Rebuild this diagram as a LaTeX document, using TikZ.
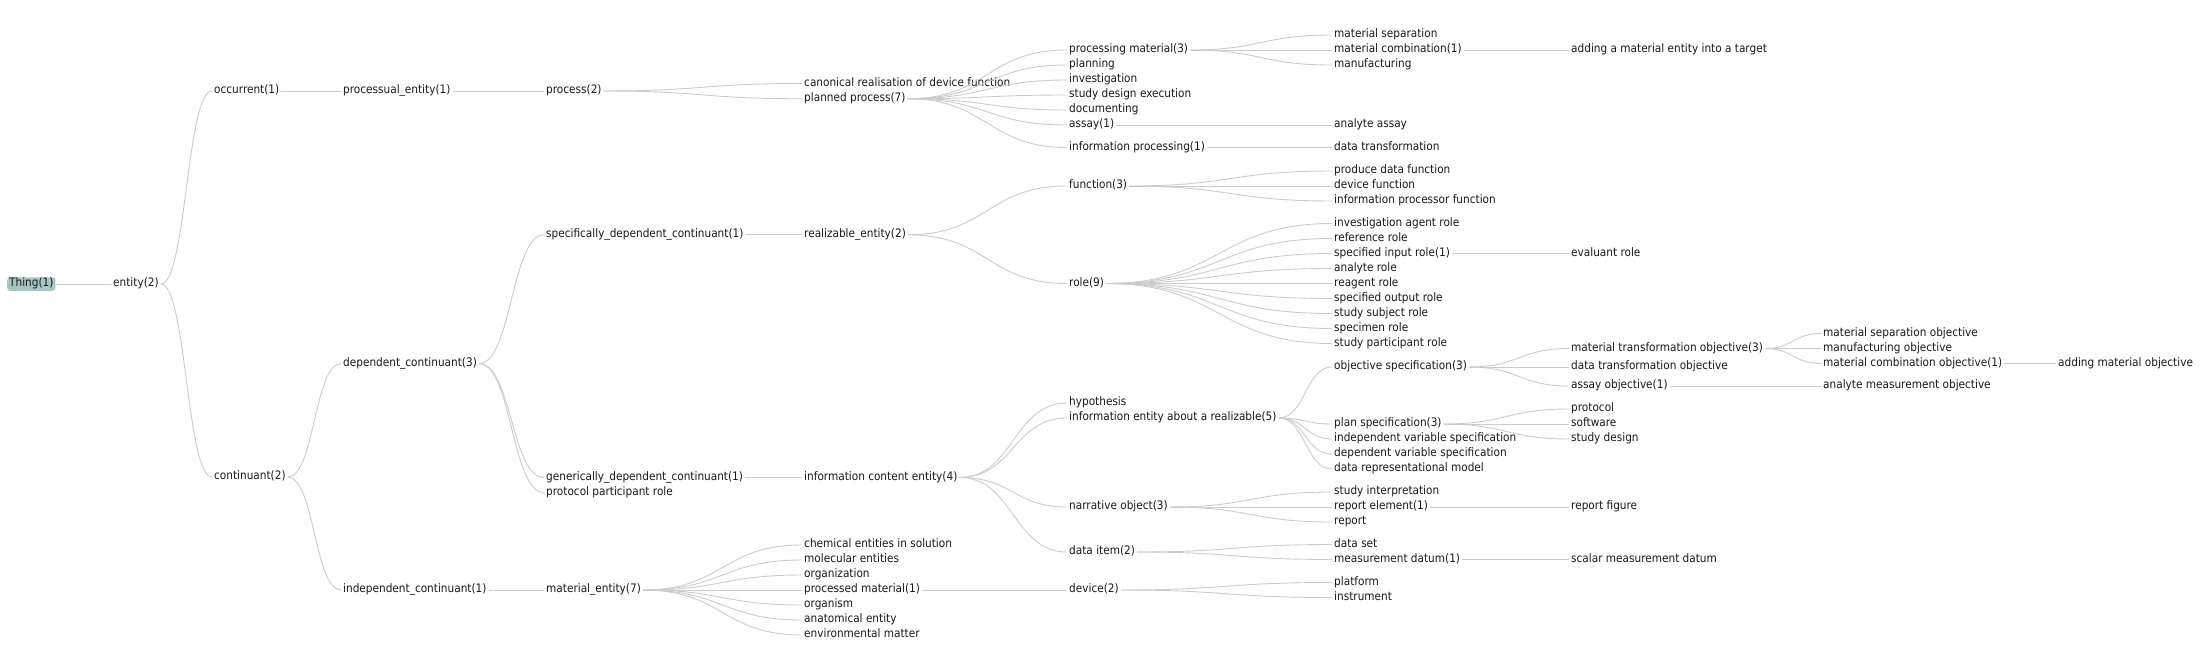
\documentclass[tikz,border=0pt]{standalone}
\usepackage{fontspec}
\setmainfont{DejaVu Sans Condensed}
\usepackage{xcolor}
\usetikzlibrary{calc}

\definecolor{rootfill}{RGB}{166,197,195}
\definecolor{linkgray}{RGB}{204,204,204}

\tikzset{
  lbl/.style={anchor=west, inner xsep=2pt, inner ysep=0pt, text height=8pt, text depth=2.5pt,
    font=\fontsize{11.7}{12}\selectfont, text=black!90},
  root/.style={lbl, fill=rootfill, rounded corners=3pt, inner ysep=1.5pt},
  link/.style={draw=linkgray, line width=0.9pt},
}

\newcommand{\treelink}[2]{%
  \draw[link] let \p1=(#1.east), \p2=(#2.west) in
    (\p1) .. controls ({(\x1+\x2)/2},\y1) and ({(\x1+\x2)/2},\y2) .. (\p2);}

\begin{document}
\begin{tikzpicture}[x=1pt, y=-1pt]
\useasboundingbox (0,0) rectangle (2201,662);

\node[root] (thing) at (7,284) {Thing(1)};
\node[lbl] (entity) at (111,284) {entity(2)};

\node[lbl] (occ) at (212,91) {occurrent(1)};
\node[lbl] (cont) at (212,477) {continuant(2)};

\node[lbl] (procent) at (341,91) {processual\_entity(1)};
\node[lbl] (depcont) at (341,363.6) {dependent\_continuant(3)};
\node[lbl] (indcont) at (341,590) {independent\_continuant(1)};

\node[lbl] (process) at (544,91) {process(2)};
\node[lbl] (sdc) at (544,234.75) {specifically\_dependent\_continuant(1)};
\node[lbl] (gdc) at (544,477.5) {generically\_dependent\_continuant(1)};
\node[lbl] (ppr) at (544,492.5) {protocol participant role};
\node[lbl] (matent) at (544,590) {material\_entity(7)};

\node[lbl] (canon) at (802,83.5) {canonical realisation of device function};
\node[lbl] (planned) at (802,98.75) {planned process(7)};
\node[lbl] (realiz) at (802,234.75) {realizable\_entity(2)};
\node[lbl] (ice) at (802,477.5) {information content entity(4)};
\node[lbl] (chem) at (802,545) {chemical entities in solution};
\node[lbl] (molec) at (802,560) {molecular entities};
\node[lbl] (org) at (802,575) {organization};
\node[lbl] (procd) at (802,590) {processed material(1)};
\node[lbl] (organism) at (802,605) {organism};
\node[lbl] (anat) at (802,620) {anatomical entity};
\node[lbl] (envm) at (802,635) {environmental matter};

\node[lbl] (procmat) at (1067,50) {processing material(3)};
\node[lbl] (planning) at (1067,65) {planning};
\node[lbl] (invest) at (1067,80) {investigation};
\node[lbl] (sde) at (1067,95) {study design execution};
\node[lbl] (docu) at (1067,110) {documenting};
\node[lbl] (assay) at (1067,125) {assay(1)};
\node[lbl] (infoproc) at (1067,147.5) {information processing(1)};
\node[lbl] (func) at (1067,186) {function(3)};
\node[lbl] (role) at (1067,283.5) {role(9)};
\node[lbl] (hyp) at (1067,403) {hypothesis};
\node[lbl] (ieaar) at (1067,418) {information entity about a realizable(5)};
\node[lbl] (narr) at (1067,507) {narrative object(3)};
\node[lbl] (ditem) at (1067,552) {data item(2)};
\node[lbl] (device) at (1067,590) {device(2)};

\node[lbl] (matsep) at (1332,35) {material separation};
\node[lbl] (matcomb) at (1332,50) {material combination(1)};
\node[lbl] (manuf) at (1332,65) {manufacturing};
\node[lbl] (anassay) at (1332,125) {analyte assay};
\node[lbl] (datatrans) at (1332,147.5) {data transformation};
\node[lbl] (pdf) at (1332,171) {produce data function};
\node[lbl] (devfunc) at (1332,186) {device function};
\node[lbl] (ipf) at (1332,201) {information processor function};
\node[lbl] (iar) at (1332,223.5) {investigation agent role};
\node[lbl] (refrole) at (1332,238.5) {reference role};
\node[lbl] (sir) at (1332,253.5) {specified input role(1)};
\node[lbl] (anrole) at (1332,268.5) {analyte role};
\node[lbl] (reagrole) at (1332,283.5) {reagent role};
\node[lbl] (sor) at (1332,298.5) {specified output role};
\node[lbl] (ssr) at (1332,313.5) {study subject role};
\node[lbl] (specrole) at (1332,328.5) {specimen role};
\node[lbl] (sprole) at (1332,343.5) {study participant role};
\node[lbl] (objspec) at (1332,367) {objective specification(3)};
\node[lbl] (planspec) at (1332,424) {plan specification(3)};
\node[lbl] (ivs) at (1332,439) {independent variable specification};
\node[lbl] (dvs) at (1332,454) {dependent variable specification};
\node[lbl] (drm) at (1332,469) {data representational model};
\node[lbl] (sinterp) at (1332,492) {study interpretation};
\node[lbl] (repel) at (1332,507) {report element(1)};
\node[lbl] (report) at (1332,522) {report};
\node[lbl] (dset) at (1332,544.5) {data set};
\node[lbl] (mdatum) at (1332,559.5) {measurement datum(1)};
\node[lbl] (platform) at (1332,582.5) {platform};
\node[lbl] (instr) at (1332,597.5) {instrument};

\node[lbl] (addent) at (1569,50) {adding a material entity into a target};
\node[lbl] (evrole) at (1569,253.5) {evaluant role};
\node[lbl] (mto) at (1569,348.5) {material transformation objective(3)};
\node[lbl] (dto) at (1569,367) {data transformation objective};
\node[lbl] (aobj) at (1569,386) {assay objective(1)};
\node[lbl] (protocol) at (1569,409) {protocol};
\node[lbl] (software) at (1569,424) {software};
\node[lbl] (sdesign) at (1569,439) {study design};
\node[lbl] (repfig) at (1569,507) {report figure};
\node[lbl] (smd) at (1569,559.5) {scalar measurement datum};

\node[lbl] (mso) at (1821,333.5) {material separation objective};
\node[lbl] (mobj) at (1821,348.5) {manufacturing objective};
\node[lbl] (mco) at (1821,363.5) {material combination objective(1)};
\node[lbl] (amobj) at (1821,386) {analyte measurement objective};

\node[lbl] (amo) at (2056,363.5) {adding material objective};

% links, parent/child
\foreach \s/\t in {thing/entity, entity/occ, entity/cont, occ/procent, procent/process,
    process/canon, process/planned,
    planned/procmat, planned/planning, planned/invest, planned/sde, planned/docu,
    planned/assay, planned/infoproc,
    procmat/matsep, procmat/matcomb, procmat/manuf, matcomb/addent,
    assay/anassay, infoproc/datatrans,
    cont/depcont, cont/indcont, depcont/sdc, depcont/gdc, depcont/ppr,
    sdc/realiz, realiz/func, realiz/role,
    func/pdf, func/devfunc, func/ipf,
    role/iar, role/refrole, role/sir, role/anrole, role/reagrole, role/sor,
    role/ssr, role/specrole, role/sprole, sir/evrole,
    gdc/ice, ice/hyp, ice/ieaar, ice/narr, ice/ditem,
    ieaar/objspec, ieaar/planspec, ieaar/ivs, ieaar/dvs, ieaar/drm,
    objspec/mto, objspec/dto, objspec/aobj,
    mto/mso, mto/mobj, mto/mco, mco/amo, aobj/amobj,
    planspec/protocol, planspec/software, planspec/sdesign,
    narr/sinterp, narr/repel, narr/report, repel/repfig,
    ditem/dset, ditem/mdatum, mdatum/smd,
    indcont/matent,
    matent/chem, matent/molec, matent/org, matent/procd, matent/organism,
    matent/anat, matent/envm,
    procd/device, device/platform, device/instr}
  {\treelink{\s}{\t}}

\end{tikzpicture}
\end{document}
